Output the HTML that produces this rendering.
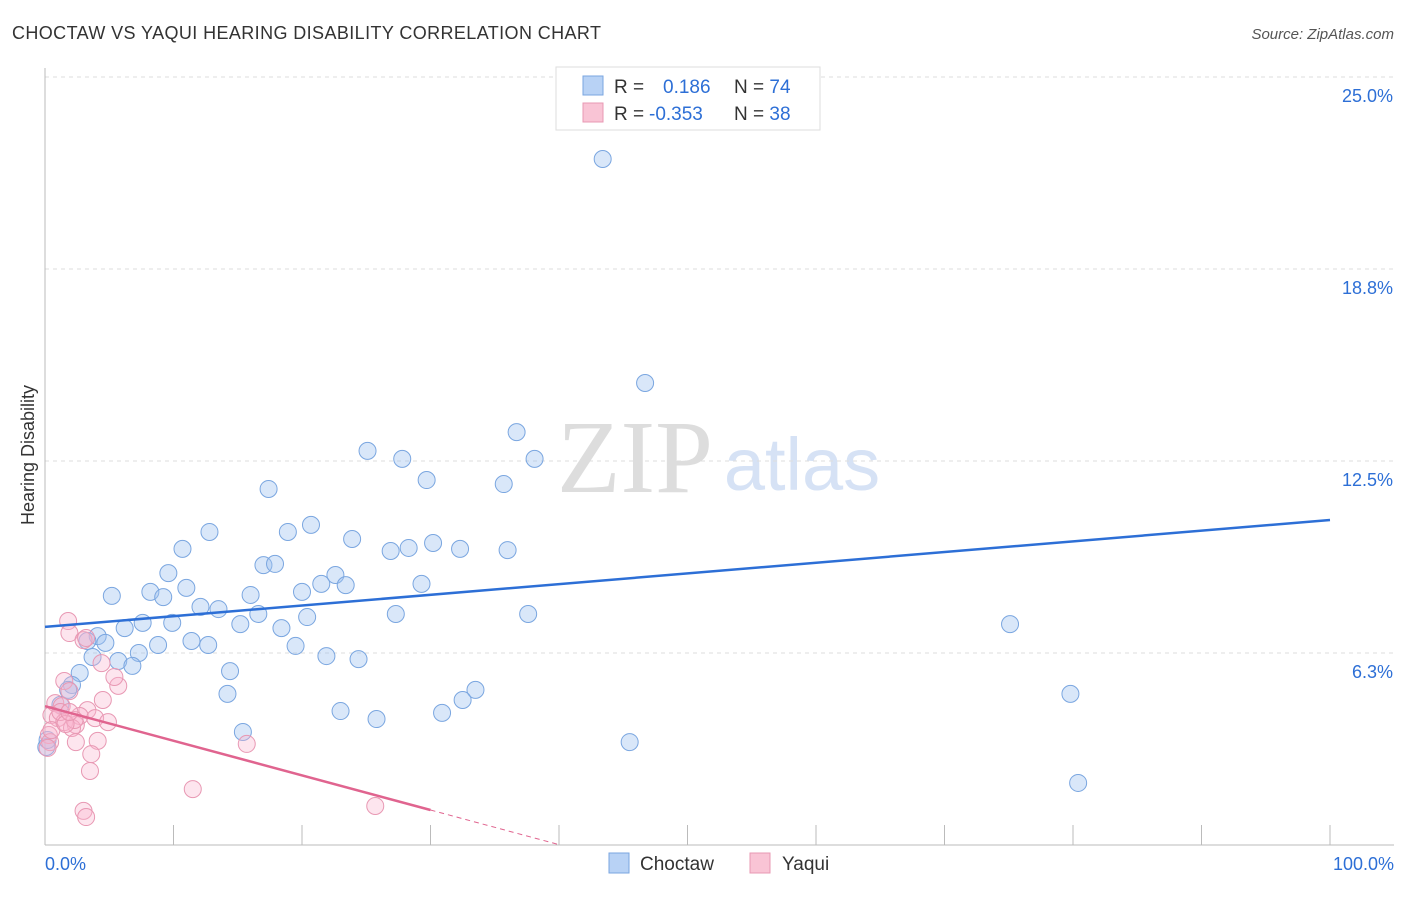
<!DOCTYPE html>
<html><head><meta charset="utf-8"><style>
body{margin:0;background:#fff;font-family:"Liberation Sans",sans-serif}
text{font-family:"Liberation Sans",sans-serif}
</style></head><body>
<svg id="c" width="1406" height="892" xmlns="http://www.w3.org/2000/svg">
<text x="12" y="39" font-size="18" fill="#333" textLength="589">CHOCTAW VS YAQUI HEARING DISABILITY CORRELATION CHART</text>
<text x="1394" y="39" font-size="15" fill="#555" font-style="italic" text-anchor="end">Source: ZipAtlas.com</text>
<g><text x="635" y="492" font-size="104" fill="#ddd" style="font-family:'Liberation Serif',serif" text-anchor="middle">ZIP</text><text x="802" y="490" font-size="74" fill="#d6e2f5" text-anchor="middle">atlas</text></g>
<g id="grid"></g><g id="axes"></g><g id="pts"></g><g id="trend"></g>
<text x="34" y="455" font-size="18" fill="#333" text-anchor="middle" transform="rotate(-90 34 455)">Hearing Disability</text>
<g>
<rect x="556" y="67" width="264" height="63" fill="#fff" stroke="#ddd"/>
<rect x="583" y="76" width="20" height="19" fill="#b8d2f5" stroke="#7aa6e0"/>
<rect x="583" y="103" width="20" height="19" fill="#f9c4d5" stroke="#e898b3"/>
<text x="614" y="93" font-size="19" fill="#333">R = <tspan x="663" fill="#2d6fd6">0.186</tspan><tspan x="734" fill="#333">N = </tspan><tspan fill="#2d6fd6">74</tspan></text>
<text x="614" y="120" font-size="19" fill="#333">R = <tspan x="649" fill="#2d6fd6">-0.353</tspan><tspan x="734" fill="#333">N = </tspan><tspan fill="#2d6fd6">38</tspan></text>
</g>
<g>
<rect x="609" y="853" width="20" height="20" fill="#b8d2f5" stroke="#7aa6e0"/>
<text x="640" y="870" font-size="19" fill="#333">Choctaw</text>
<rect x="750" y="853" width="20" height="20" fill="#f9c4d5" stroke="#e898b3"/>
<text x="782" y="870" font-size="19" fill="#333">Yaqui</text>
</g>
</svg>
<script>
const yTicks=[25.0,18.8,12.5,6.3];
const yTickVals=[25,18.75,12.5,6.25];
const xLabels=["0.0%","100.0%"];
const choctawX=[43.4,46.7,36.7,25.1,27.8,38.1,29.7,35.7,17.4,12.8,20.7,18.9,23.9,10.7,26.9,28.3,30.2,32.3,36.0,17.0,17.9,9.6,22.6,21.5,23.4,29.3,11.0,8.2,5.2,9.2,16.0,20.0,12.1,13.5,16.6,27.3,37.6,20.4,7.6,9.9,6.2,15.2,18.4,75.1,4.1,3.3,4.7,11.4,12.7,8.8,19.5,7.3,3.7,5.7,6.8,21.9,24.4,14.4,2.7,2.1,1.8,33.5,14.2,79.8,32.5,1.2,23.0,30.9,25.8,15.4,45.5,80.4,0.1,0.2];
const choctawY=[22.33,15.04,13.44,12.83,12.57,12.57,11.88,11.75,11.59,10.19,10.42,10.19,9.96,9.64,9.57,9.67,9.83,9.64,9.60,9.11,9.15,8.85,8.79,8.50,8.46,8.50,8.37,8.24,8.11,8.07,8.14,8.24,7.75,7.68,7.52,7.52,7.52,7.42,7.23,7.23,7.06,7.19,7.06,7.19,6.80,6.64,6.58,6.64,6.51,6.51,6.48,6.25,6.12,5.99,5.83,6.15,6.05,5.66,5.60,5.21,5.05,5.05,4.92,4.92,4.72,4.56,4.36,4.30,4.10,3.68,3.35,2.02,3.19,3.42];
const yaquiX=[1.8,1.9,3.0,3.2,1.5,4.4,1.9,5.7,5.4,0.8,1.3,0.5,1.0,1.5,4.5,3.3,2.7,3.9,4.9,2.4,2.1,0.3,0.4,2.4,4.1,0.2,3.6,3.5,15.7,11.5,3.0,3.2,25.7,1.2,2.3,0.5,1.6,1.9];
const yaquiY=[7.29,6.90,6.67,6.74,5.34,5.92,5.01,5.18,5.47,4.62,4.52,4.23,4.13,4.00,4.72,4.39,4.20,4.13,4.00,3.91,3.81,3.58,3.35,3.35,3.39,3.16,2.96,2.41,3.29,1.82,1.11,0.91,1.27,4.33,4.07,3.74,3.94,4.33];
const blueTrend=[7.1,10.58];
const pinkTrend=[4.52,-0.1127,30,40.1];
const NS="http://www.w3.org/2000/svg";
const X=v=>45+v*12.85, Y=v=>845-v*30.72;
function mk(p,t,a){const e=document.createElementNS(NS,t);for(const k in a)e.setAttribute(k,a[k]);document.getElementById(p).appendChild(e);return e;}
yTickVals.forEach((v,i)=>{
 const l=mk('grid','line',{x1:45,x2:1394,y1:Y(v),y2:Y(v),stroke:'#ddd','stroke-dasharray':'4 4'});
 
 
 const t=mk('grid','text',{x:1393,y:Y(v)+25,'font-size':18,fill:'#2d6fd6','text-anchor':'end'});t.textContent=yTicks[i].toFixed(1)+'%';
 
 
});
const ax=mk('axes','line',{x1:45,x2:1394,y1:845,y2:845,stroke:'#bbb'});


const ay=mk('axes','line',{x1:45,x2:45,y1:68,y2:845,stroke:'#bbb'});


for(let i=0;i<=10;i++){const t=mk('axes','line',{x1:X(i*10),x2:X(i*10),y1:825,y2:845,stroke:'#bbb'});
 
 }
[[0,'start',45],[100,'end',1394]].forEach((d,i)=>{const t=mk('axes','text',{x:d[2],y:870,'font-size':18,fill:'#2d6fd6','text-anchor':d[1]});t.textContent=xLabels[i];
 
 });
choctawX.forEach((x,i)=>{const c=mk('pts','circle',{cx:X(x),cy:Y(choctawY[i]),r:8.5,fill:'rgba(160,195,240,0.4)',stroke:'#7aa6e0','stroke-width':1});
 
 });
yaquiX.forEach((x,i)=>{const c=mk('pts','circle',{cx:X(x),cy:Y(yaquiY[i]),r:8.5,fill:'rgba(248,180,205,0.35)',stroke:'#e898b3','stroke-width':1});
 
 });
const bt=mk('trend','line',{x1:X(0),y1:Y(blueTrend[0]),x2:X(100),y2:Y(blueTrend[1]),stroke:'#2d6fd6','stroke-width':2.5});


const pe=pinkTrend[0]+pinkTrend[1]*pinkTrend[2], pd=pinkTrend[0]+pinkTrend[1]*pinkTrend[3];
const pt=mk('trend','line',{x1:X(0),y1:Y(pinkTrend[0]),x2:X(pinkTrend[2]),y2:Y(pe),stroke:'#e0648f','stroke-width':2.5});


const pdl=mk('trend','line',{x1:X(pinkTrend[2]),y1:Y(pe),x2:X(pinkTrend[3]),y2:Y(pd),stroke:'#e0648f','stroke-width':1,'stroke-dasharray':'5 4'});


</script>
</body></html>
